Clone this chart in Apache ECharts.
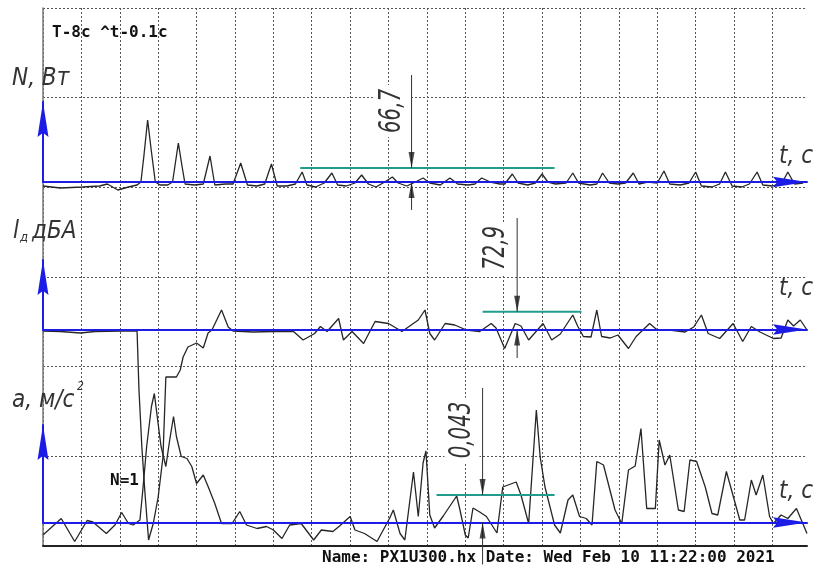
<!DOCTYPE html>
<html lang="ru">
<head>
<meta charset="UTF-8">
<title>Осциллограмма</title>
<style>
    html, body { margin: 0; background: #fff; }
    #main { width: 817px; height: 567px; }
</style>
</head>
<body>
<div id="main"></div>
<script src="https://cdn.jsdelivr.net/npm/echarts@6/dist/echarts.min.js"></script>
<script>
    // время, с (T = 8 c, 20 делений по 0.4 c); значения - высота над нулевой линией канала
    const tStep = 0.4;
    const tMax = 7.96;

    // N, Вт
    const powerTrace = [
        [0.00,-4],[0.18,-6],[0.41,-5],[0.59,-4],[0.67,-2],[0.78,-8],[0.89,-5],[0.98,-3],[1.02,0],[1.05,25],
        [1.09,62],[1.13,30],[1.17,0],[1.22,-3],[1.30,-3],[1.35,0],[1.41,39],[1.45,15],[1.48,-2],[1.58,-3],
        [1.67,-2],[1.74,26],[1.79,-3],[1.90,-2],[1.98,-2],[2.06,19],[2.13,-3],[2.23,-4],[2.31,-2],[2.38,18],
        [2.44,-4],[2.54,-4],[2.63,-2],[2.70,10],[2.75,-3],[2.84,-5],[2.93,-1],[3.01,9],[3.07,-3],[3.16,-4],
        [3.25,-1],[3.32,7],[3.39,-2],[3.47,-5],[3.56,0],[3.64,5],[3.70,-1],[3.79,-4],[3.88,0],[3.96,4],
        [4.03,-1],[4.14,-3],[4.24,4],[4.32,-2],[4.43,-3],[4.50,-2],[4.57,4],[4.66,0],[4.76,-2],[4.81,-2],
        [4.89,8],[4.95,-1],[5.05,-3],[5.13,-1],[5.20,8],[5.26,0],[5.34,-2],[5.45,-1],[5.52,9],[5.58,-1],
        [5.70,-3],[5.77,-2],[5.83,9],[5.90,-1],[5.99,-2],[6.07,-1],[6.15,9],[6.21,-2],[6.30,0],[6.40,-1],
        [6.47,11],[6.53,-2],[6.64,-3],[6.73,-1],[6.80,10],[6.86,-4],[6.97,-5],[7.05,-2],[7.11,10],[7.18,-4],
        [7.28,-5],[7.36,-2],[7.44,10],[7.50,-3],[7.60,-4],[7.70,-1],[7.76,10],[7.83,-2],[7.92,-1]
    ];

    // Lд, дБА
    const noiseTrace = [
        [0.00,-1.5],[0.18,-2],[0.39,-3.5],[0.54,-2],[0.80,-1.5],[0.98,-1.5],[1.00,-60.5],[1.03,-117.5],
        [1.06,-160.5],[1.10,-210.5],[1.15,-193.5],[1.20,-167.5],[1.25,-127.5],[1.28,-47.5],[1.39,-47.5],
        [1.43,-40.5],[1.46,-27.5],[1.51,-17.5],[1.60,-13.5],[1.67,-18.5],[1.72,-3.5],[1.76,-0.5],[1.81,9.5],
        [1.86,19.5],[1.93,2.5],[1.98,-1.5],[2.19,-2.5],[2.40,-2],[2.61,-2],[2.71,-10.5],[2.83,-4],[2.89,3],
        [2.96,-2],[3.08,11],[3.13,-10.5],[3.22,-2],[3.34,-14],[3.46,8],[3.60,6],[3.74,-2],[3.91,9.5],
        [3.98,19.5],[4.03,-4],[4.08,-10.5],[4.19,6],[4.29,4.5],[4.41,-0.5],[4.55,-2],[4.67,6],[4.72,1.5],
        [4.81,-19],[4.92,6],[4.98,3.5],[5.06,-10.5],[5.21,6],[5.30,-10.5],[5.39,-4.5],[5.52,14.5],[5.57,3.5],
        [5.63,-7],[5.71,-7.5],[5.77,19.5],[5.82,-7],[5.91,-8.5],[5.99,-5.5],[6.10,-19],[6.18,-7],[6.32,6],
        [6.40,-0.5],[6.53,-0.5],[6.69,-2.5],[6.78,2.5],[6.86,14.5],[6.93,-4],[7.05,-9],[7.19,6],[7.29,-12],
        [7.38,3],[7.47,-2.5],[7.61,-9],[7.69,-8.5],[7.76,9.5],[7.82,3.5],[7.89,9.5],[7.96,-0.5]
    ];

    // a, м/с²
    const accelTrace = [
        [0.00,-12.5],[0.19,4],[0.33,-19],[0.46,2],[0.52,0.5],[0.66,-11],[0.75,-2.5],[0.82,10],[0.89,-1],
        [0.94,-2.5],[1.01,2.5],[1.04,32.5],[1.08,76],[1.13,116],[1.16,129],[1.19,106],[1.23,76],[1.28,56],
        [1.32,82.5],[1.36,106],[1.39,86],[1.44,66],[1.50,64],[1.55,56],[1.60,39],[1.67,47.5],[1.72,36],
        [1.79,19],[1.86,-1],[1.97,-1],[2.05,11],[2.12,-2.5],[2.23,-6],[2.33,-4],[2.40,-7.5],[2.49,-16],
        [2.57,-2.5],[2.69,-1],[2.82,-17.5],[2.90,-7.5],[3.02,-9],[3.09,-3.5],[3.20,6],[3.25,-7.5],[3.35,-11],
        [3.48,-19],[3.61,4],[3.65,12.5],[3.72,-11],[3.77,-17.5],[3.86,50.5],[3.91,6],[3.96,59.5],[3.99,71.5],
        [4.03,7.5],[4.08,-5.5],[4.17,6.5],[4.31,26.5],[4.34,14.5],[4.40,-12.5],[4.43,-15.5],[4.48,14.5],
        [4.55,10.5],[4.62,6],[4.73,-10.5],[4.79,35.5],[4.93,40.5],[4.98,27.5],[5.06,-1],[5.14,112.5],
        [5.18,65.5],[5.23,35.5],[5.33,-2.5],[5.39,-10.5],[5.47,22.5],[5.52,27.5],[5.59,6],[5.66,4],[5.72,-2.5],
        [5.77,61],[5.84,57.5],[5.96,12.5],[6.03,-1],[6.10,52.5],[6.17,56.5],[6.23,94],[6.29,14],[6.38,14],
        [6.42,82.5],[6.48,57.5],[6.53,67.5],[6.62,12.5],[6.68,11],[6.74,62.5],[6.81,61],[6.90,35.5],[6.97,9],
        [7.03,7.5],[7.12,51],[7.26,2.5],[7.31,2.5],[7.38,42.5],[7.43,27.5],[7.50,47.5],[7.57,6],[7.61,-1],
        [7.69,7.5],[7.76,4],[7.85,14],[7.96,-11]
    ];

    // уровни (бирюзовые отрезки): [от, до, уровень] и размерные стрелки
    const levelSpans = [[2.68, 5.33, 14], [4.58, 5.61, 17.8], [4.10, 5.33, 27.5]];
    const markerTimes = [3.84, 4.94, 4.58];
    const markerReach = [[107, -28], [111.5, -28.5], [134.5, -42]];
    const markerLabels = ['66,7', '72,9', '0,043'];

    const traces = [powerTrace, noiseTrace, accelTrace];

    // раскладка каналов (пиксели): верх стрелки оси и нулевая линия
    const panels = [{top: 102, zero: 182}, {top: 260, zero: 329.5}, {top: 425, zero: 522.5}];
    const labelPos = [[392, 111], [496, 248], [462, 430]];

    const blue = '#1c1ce6';
    const teal = '#1f9c8c';
    const ink = '#262626';
    const axisArrow = 'path://M5,0L10,32L5,28L0,32Z';
    const downArrow = 'path://M0,0L8,0L4,20Z';
    const upArrow = 'path://M4,0L8,20L0,20Z';

    const myChart = echarts.init(document.getElementById('main'));

    const grid = [{left: 43, top: 8, width: 764, height: 538}];
    const xAxis = [{
        gridIndex: 0, type: 'value', min: 0, max: tMax, interval: tStep,
        axisLine: {lineStyle: {color: '#222', width: 2}},
        axisTick: {show: false}, axisLabel: {show: false},
        splitLine: {show: true, showMaxLine: false, lineStyle: {color: '#555', width: 1, type: [2, 2]}}
    }];
    const yAxis = [{
        gridIndex: 0, type: 'value', min: 0, max: 6, interval: 1,
        axisLine: {show: true, lineStyle: {color: '#777', width: 1.5}},
        axisTick: {show: false}, axisLabel: {show: false},
        splitLine: {show: true, lineStyle: {color: '#555', width: 1, type: [2, 2]}}
    }];
    const series = [];

    panels.forEach((p, i) => {
        const k = i + 1;
        grid.push({left: 43, width: 764, top: p.top, height: p.zero - p.top});
        xAxis.push({
            gridIndex: k, type: 'value', min: 0, max: tMax, z: 5,
            axisLine: {show: true, symbol: ['none', axisArrow], symbolSize: [15, 34], symbolOffset: [0, -17],
                lineStyle: {color: blue, width: 2}},
            axisTick: {show: false}, axisLabel: {show: false}, splitLine: {show: false}
        });
        yAxis.push({
            gridIndex: k, type: 'value', min: 0, max: p.zero - p.top, z: 5,
            axisLine: {show: true, symbol: ['none', axisArrow], symbolSize: [14, 35], symbolOffset: [0, -17.5],
                lineStyle: {color: blue, width: 2}},
            axisTick: {show: false}, axisLabel: {show: false}, splitLine: {show: false}
        });

        const base = {xAxisIndex: k, yAxisIndex: k, clip: false, silent: true, animation: false};
        series.push(Object.assign({}, base, {
            type: 'line', data: traces[i], symbol: 'none', z: 3,
            lineStyle: {color: ink, width: 1.3}
        }));

        const span = levelSpans[i];
        const t = markerTimes[i];
        series.push(Object.assign({}, base, {
            type: 'line', data: [[span[0], span[2]], [span[1], span[2]]], symbol: 'none', z: 6,
            lineStyle: {color: teal, width: 2}
        }));
        series.push(Object.assign({}, base, {
            type: 'line', data: [[t, markerReach[i][0]], [t, span[2]]], symbol: 'none', z: 7,
            lineStyle: {color: '#333', width: 1}
        }));
        series.push(Object.assign({}, base, {
            type: 'line', data: [[t, markerReach[i][1]], [t, 0]], symbol: 'none', z: 7,
            lineStyle: {color: '#333', width: 1}
        }));
        series.push(Object.assign({}, base, {
            type: 'scatter', symbolSize: [6, 16], z: 8,
            itemStyle: {color: '#1a1a1a'},
            data: [
                {value: [t, span[2]], symbol: downArrow, symbolOffset: [0, '-50%']},
                {value: [t, 0], symbol: upArrow, symbolOffset: [0, '50%']}
            ]
        }));
    });

    const titleFont = {fontFamily: '"DejaVu Sans Condensed", "Liberation Sans Narrow", sans-serif', fontStyle: 'italic'};
    const monoFont = {fontFamily: '"DejaVu Sans Mono", monospace', fontWeight: 'bold', fontSize: 16};

    function txt(x, y, text, style, extra) {
        return Object.assign({
            type: 'text', x: x, y: y, z: 20, silent: true,
            style: Object.assign({text: text, fill: '#333', verticalAlign: 'middle', align: 'left'}, style)
        }, extra || {});
    }

    const graphic = [
        txt(52, 33, 'T-8c ^t-0.1c', Object.assign({fill: '#111'}, monoFont)),
        txt(110, 481, 'N=1', Object.assign({fill: '#111'}, monoFont)),
        txt(322, 558, 'Name: PX1U300.hx Date: Wed Feb 10 11:22:00 2021', Object.assign({fill: '#111'}, monoFont)),

        txt(12, 79, 'N, Вт', Object.assign({fontSize: 24}, titleFont)),
        txt(13, 232, 'l', Object.assign({fontSize: 24}, titleFont)),
        txt(20, 238, 'д', Object.assign({fontSize: 13}, titleFont)),
        txt(32, 232, 'дБА', Object.assign({fontSize: 24}, titleFont)),
        txt(12, 401, 'a, м/с', Object.assign({fontSize: 24}, titleFont)),
        txt(77, 387, '2', Object.assign({fontSize: 12}, titleFont)),
        txt(779, 157, 't, с', Object.assign({fontSize: 24}, titleFont)),
        txt(779, 289, 't, с', Object.assign({fontSize: 24}, titleFont)),
        txt(779, 492, 't, с', Object.assign({fontSize: 24}, titleFont))
    ];
    markerLabels.forEach((label, i) => {
        graphic.push(txt(labelPos[i][0], labelPos[i][1], label,
            Object.assign({fontSize: 22, align: 'center', backgroundColor: '#fff', padding: [2, 4]}, titleFont),
            {rotation: Math.PI / 2, scaleY: 1.35}));
    });

    myChart.setOption({
        animation: false,
        backgroundColor: '#fff',
        grid: grid,
        xAxis: xAxis,
        yAxis: yAxis,
        series: series,
        graphic: graphic
    });
</script>
</body>
</html>
